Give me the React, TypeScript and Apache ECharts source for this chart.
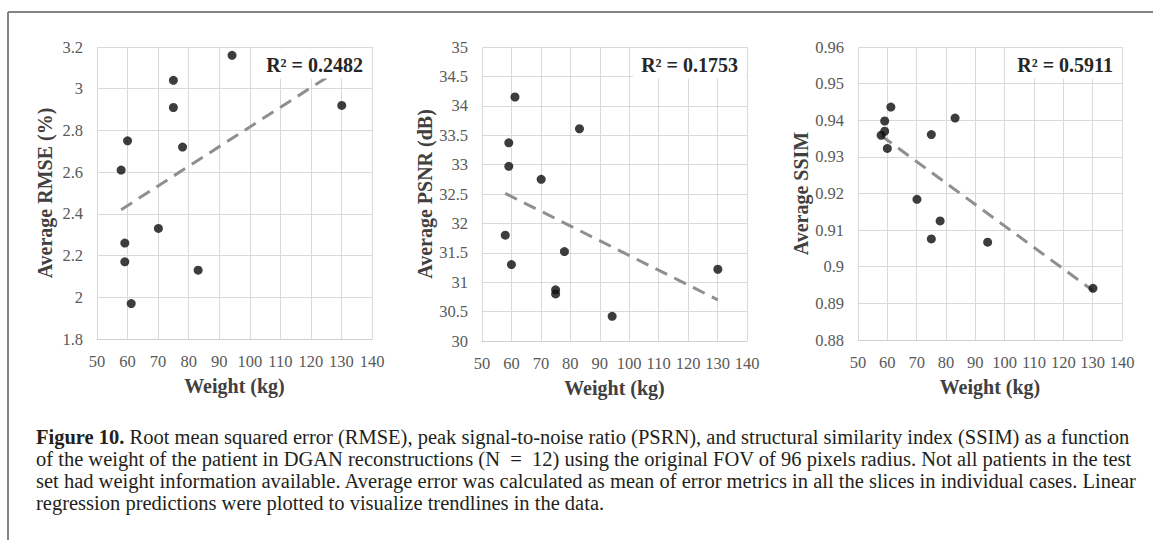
import React, { useEffect, useRef } from "react";
import * as echarts from "echarts";

const weights = [57.9, 59.1, 59.1, 60, 61.2, 70.1, 75, 75, 78, 83.1, 94.2, 130.1];
const rmse = [2.61, 2.26, 2.17, 2.75, 1.97, 2.33, 3.04, 2.91, 2.72, 2.13, 3.16, 2.92];
const psnr = [31.8, 33.37, 32.97, 31.3, 34.15, 32.75, 30.87, 30.8, 31.52, 33.61, 30.42, 31.22];
const ssim = [0.9359, 0.9398, 0.937, 0.9323, 0.9436, 0.9184, 0.9361, 0.9076, 0.9125, 0.9406, 0.9067, 0.8941];

const trendX = [57.9, 130.1];
const rmseTrend = [2.42, 3.1];
const psnrTrend = [32.51, 30.7];
const ssimTrend = [0.9358, 0.8935];

const yNames = ["Average RMSE (%)", "Average PSNR (dB)", "Average SSIM"];
const r2Labels = ["R² = 0.2482", "R² = 0.1753", "R² = 0.5911"];
const xName = "Weight (kg)";

const captionLines = [
  "Root mean squared error (RMSE), peak signal-to-noise ratio (PSRN), and structural similarity index (SSIM) as a function",
  "of the weight of the patient in DGAN reconstructions (N  =  12) using the original FOV of 96 pixels radius. Not all patients in the test",
  "set had weight information available. Average error was calculated as mean of error metrics in all the slices in individual cases. Linear",
  "regression predictions were plotted to visualize trendlines in the data.",
];

const FONT = "'Liberation Serif', 'Times New Roman', serif";

export default function App() {
  const ref = useRef<HTMLDivElement>(null);
  useEffect(() => {
    document.body.style.margin = "0";
    const chart = echarts.init(ref.current!, null, { renderer: "svg" });
    const grids = [
      { left: 97, top: 47, width: 275, height: 292 },
      { left: 482, top: 47, width: 265, height: 294 },
      { left: 858, top: 47, width: 264, height: 293 },
    ];
    const yRanges = [
      { min: 1.8, max: 3.2, interval: 0.2 },
      { min: 30, max: 35, interval: 0.5 },
      { min: 0.88, max: 0.96, interval: 0.01 },
    ];
    const values = [rmse, psnr, ssim];
    const trends = [rmseTrend, psnrTrend, ssimTrend];
    const splitLine = { show: true, lineStyle: { color: "#d9d9d9", width: 1 } };
    const tickLabel = { fontFamily: FONT, fontSize: 16.5, color: "#595959", margin: 14 };
    const nameStyle = { fontFamily: FONT, fontWeight: "bold", fontSize: 20, color: "#404040" };
    const series: any[] = [];
    values.forEach((vals, i) => {
      series.push({
        type: "line",
        xAxisIndex: i,
        yAxisIndex: i,
        data: trendX.map((x, k) => [x, trends[i][k]]),
        showSymbol: false,
        symbol: "none",
        lineStyle: { color: "#8f8f8f", width: 3, type: [13, 8] },
        z: 2,
      });
      series.push({
        type: "scatter",
        xAxisIndex: i,
        yAxisIndex: i,
        data: weights.map((w, k) => [w, vals[k]]),
        symbolSize: 9,
        itemStyle: { color: "#0d0d0d" },
        z: 3,
      });
    });
    const graphics: any[] = [
      { type: "line", shape: { x1: 8, y1: 12, x2: 1153, y2: 12 }, style: { stroke: "#858585", lineWidth: 2 } },
      { type: "line", shape: { x1: 8, y1: 12, x2: 8, y2: 540 }, style: { stroke: "#858585", lineWidth: 2 } },
    ];
    grids.forEach((g, i) => {
      graphics.push({
        type: "rect",
        z: 10,
        shape: { x: g.left + g.width - 114, y: g.top + 1.5, width: 113, height: 30 },
        style: { fill: "#ffffff" },
      });
      graphics.push({
        type: "text",
        z: 11,
        x: g.left + g.width - 9,
        y: g.top + 18,
        style: {
          text: r2Labels[i],
          fontFamily: FONT,
          fontWeight: "bold",
          fontSize: 20,
          fill: "#262626",
          align: "right",
          verticalAlign: "middle",
        },
      });
    });
    captionLines.forEach((line, i) => {
      graphics.push({
        type: "text",
        x: 36,
        y: 437 + i * 22,
        style: {
          text: i === 0 ? "{b|Figure 10.} " + line : line,
          fontFamily: FONT,
          fontSize: 20.5,
          fill: "#231f20",
          verticalAlign: "middle",
          rich: { b: { fontWeight: "bold", fontFamily: FONT, fontSize: 20.5, fill: "#231f20" } },
        },
      });
    });
    chart.setOption({
      animation: false,
      backgroundColor: "#ffffff",
      textStyle: { fontFamily: FONT },
      grid: grids,
      xAxis: grids.map((_, i) => ({
        type: "value",
        gridIndex: i,
        min: 50,
        max: 140,
        interval: 10,
        name: xName,
        nameLocation: "middle",
        nameGap: 37,
        nameTextStyle: nameStyle,
        axisLine: { show: true, lineStyle: { color: "#d0d0d0" } },
        axisTick: { show: false },
        axisLabel: tickLabel,
        splitLine,
      })),
      yAxis: grids.map((_, i) => ({
        type: "value",
        gridIndex: i,
        ...yRanges[i],
        name: yNames[i],
        nameLocation: "middle",
        nameGap: 42,
        nameTextStyle: nameStyle,
        axisLine: { show: false },
        axisTick: { show: false },
        axisLabel: tickLabel,
        splitLine,
      })),
      series,
      graphic: graphics,
    });
    return () => chart.dispose();
  }, []);
  return <div ref={ref} style={{ width: 1153, height: 540 }} />;
}
